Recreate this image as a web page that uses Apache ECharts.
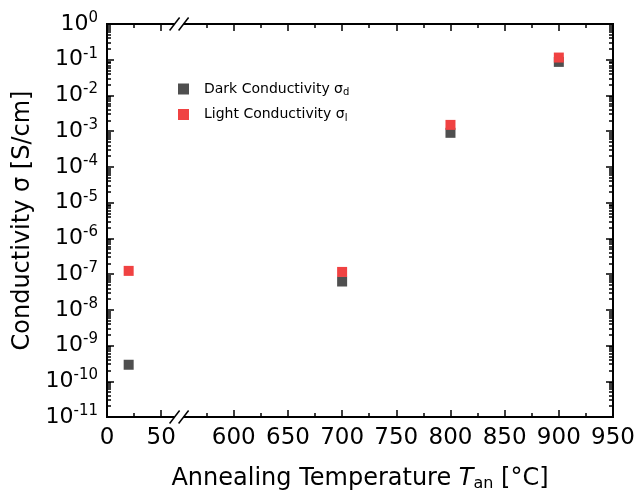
<!DOCTYPE html>
<html>
<head>
<meta charset="utf-8">
<script src="https://cdn.jsdelivr.net/npm/echarts@6/dist/echarts.min.js"></script>
<style>html,body{margin:0;padding:0;background:#fff}#c{width:641px;height:500px}</style>
</head>
<body>
<div id="c"></div>
<script>
// ---- data ----
const temperatures = [20, 700, 800, 900];
const darkConductivity = [2.9e-10, 6.2e-8, 9.0e-4, 0.087];
const lightConductivity = [1.23e-7, 1.15e-7, 1.5e-3, 0.115];
const xMajorTicks = [0, 50, 600, 650, 700, 750, 800, 850, 900, 950];
const xMinorTicks = [25, 575, 625, 675, 725, 775, 825, 875, 925];
const yExponents = [-11, -10, -9, -8, -7, -6, -5, -4, -3, -2, -1, 0];

// broken axis: 0..62 then 550..950
const BREAK_LO = 62, BREAK_HI = 550, SHIFT = 483;
const fwd = v => (v <= BREAK_LO ? v : v - SHIFT);
const inv = v => (v <= BREAK_LO + 1 ? v : v + SHIFT);
const XMAX = fwd(950);

// y ticks expressed as decade exponents (linear in the log axis)
const yMajorExp = yExponents.slice();
const yMinorExp = [];
for (let e = -11; e < 0; e++) for (let m = 2; m <= 9; m++) yMinorExp.push(e + Math.log10(m));

const FONT = 'DejaVu Sans, sans-serif';
const chart = echarts.init(document.getElementById('c'), null, {renderer: 'canvas'});

const grid = {left: 107, right: 28, top: 24, bottom: 83};
const axisLine = {show: true, onZero: false, lineStyle: {color: '#000', width: 2}};

function xAx(pos, ticks, len, labels) {
  return {
    type: 'value', position: pos, min: 0, max: XMAX,
    axisLine: axisLine,
    axisTick: {show: true, inside: true, length: len, customValues: ticks.map(fwd), lineStyle: {color: '#000', width: 1.5}},
    axisLabel: labels ? {show: true, customValues: ticks.map(fwd), formatter: v => String(Math.round(inv(v))), fontFamily: FONT, fontSize: 23, color: '#000', margin: 10} : {show: false},
    splitLine: {show: false}
  };
}
function yAx(pos, ticks, len, labels) {
  return {
    type: 'value', position: pos, min: -11, max: 0,
    axisLine: axisLine,
    axisTick: {show: true, inside: true, length: len, customValues: ticks, lineStyle: {color: '#000', width: 1.5}},
    axisLabel: labels ? {
      show: true, customValues: ticks, margin: 9,
      formatter: v => '{b|10}{s|' + Math.round(v) + '}',
      rich: {b: {fontFamily: FONT, fontSize: 22, color: '#000'}, s: {fontFamily: FONT, fontSize: 15, color: '#000', padding: [0, 0, 12, 0]}}
    } : {show: false},
    splitLine: {show: false}
  };
}

const xAxes = [xAx('bottom', xMajorTicks, 7, true), xAx('bottom', xMinorTicks, 4, false), xAx('top', xMajorTicks, 7, false), xAx('top', xMinorTicks, 4, false)];
xAxes[0].name = 'Annealing Temperature {i|T}{sub|an} [°C]';
xAxes[0].nameLocation = 'middle';
xAxes[0].nameGap = 48;
xAxes[0].nameTextStyle = {fontFamily: FONT, fontSize: 24, color: '#000',
  rich: {i: {fontFamily: FONT, fontSize: 24, fontStyle: 'italic', color: '#000'}, sub: {fontFamily: FONT, fontSize: 16, color: '#000', padding: [11, 0, 0, 0]}}};

const yAxes = [
  {type: 'log', logBase: 10, min: 1e-11, max: 1, show: false},
  yAx('left', yMajorExp, 7, true), yAx('left', yMinorExp, 4, false), yAx('right', yMajorExp, 7, false), yAx('right', yMinorExp, 4, false)
];
yAxes[1].name = 'Conductivity σ [S/cm]';
yAxes[1].nameLocation = 'middle';
yAxes[1].nameGap = 72;
yAxes[1].nameTextStyle = {fontFamily: FONT, fontSize: 24, color: '#000'};

const names = {dark: 'Dark Conductivity', light: 'Light Conductivity'};
const subs = {dark: 'd', light: 'l'};

chart.setOption({
  animation: false,
  backgroundColor: '#fff',
  grid: grid,
  xAxis: xAxes,
  yAxis: yAxes,
  legend: {
    orient: 'vertical', left: 173, top: 77, itemWidth: 11, itemHeight: 11, itemGap: 10,
    icon: 'rect',
    data: ['dark', 'light'],
    formatter: n => names[n] + ' {g|σ}{sub|' + subs[n] + '}',
    textStyle: {fontFamily: FONT, fontSize: 14, color: '#000', padding: [0, 0, 0, 10],
      rich: {g: {fontFamily: FONT, fontSize: 14, color: '#000'}, sub: {fontFamily: FONT, fontSize: 10, color: '#000', padding: [7, 0, 0, 0]}}}
  },
  series: [
    {name: 'dark', type: 'scatter', symbol: 'rect', symbolSize: 10, xAxisIndex: 0, yAxisIndex: 0,
     itemStyle: {color: '#4f4f4f', opacity: 1},
     data: temperatures.map((t, i) => [fwd(t), darkConductivity[i]])},
    {name: 'light', type: 'scatter', symbol: 'rect', symbolSize: 10, xAxisIndex: 0, yAxisIndex: 0,
     itemStyle: {color: '#f04242', opacity: 1},
     data: temperatures.map((t, i) => [fwd(t), lightConductivity[i]])}
  ]
});

// break marks on top and bottom axis lines
const pL = chart.convertToPixel({xAxisIndex: 0}, BREAK_LO);
const pR = chart.convertToPixel({xAxisIndex: 0}, fwd(BREAK_HI) + 5);
const c = (pL + pR) / 2;
const yB = 500 - grid.bottom, yT = grid.top;
const marks = [];
[yB, yT].forEach(y => {
  marks.push({type: 'rect', shape: {x: c - 5, y: y - 2, width: 9, height: 4}, style: {fill: '#fff'}, z: 100});
  marks.push({type: 'line', shape: {x1: c - 10, y1: y + 6.5, x2: c, y2: y - 6.5}, style: {stroke: '#000', lineWidth: 1.5}, z: 101});
  marks.push({type: 'line', shape: {x1: c - 1, y1: y + 6.5, x2: c + 9, y2: y - 6.5}, style: {stroke: '#000', lineWidth: 1.5}, z: 101});
});
chart.setOption({graphic: marks});
</script>
</body>
</html>
